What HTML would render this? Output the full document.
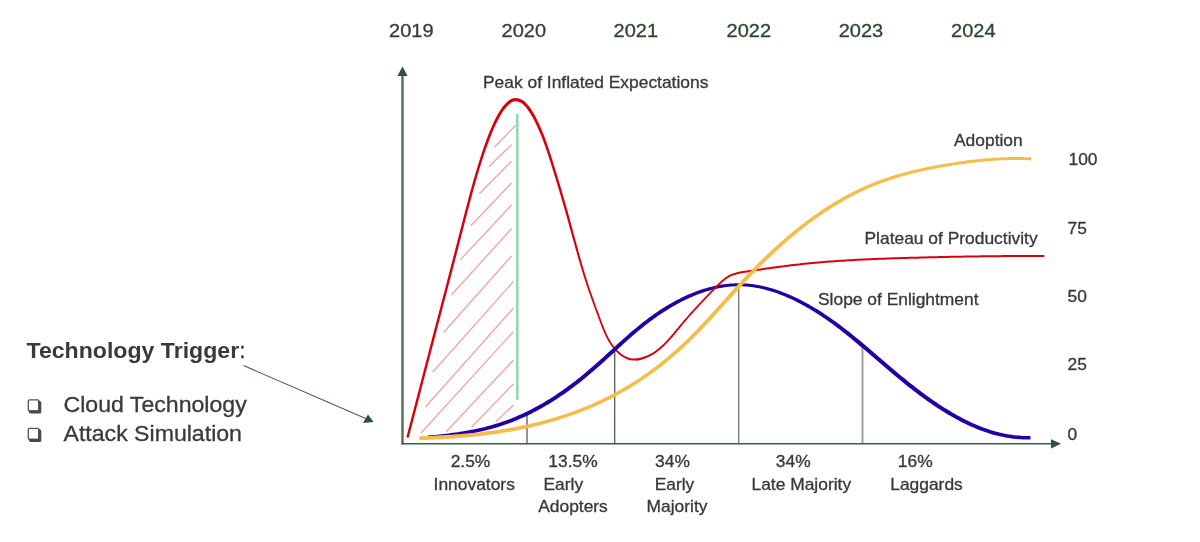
<!DOCTYPE html>
<html lang="en"><head><meta charset="utf-8"><title>Hype cycle and adoption</title>
<style>
html,body{margin:0;padding:0;background:#fff;}
svg{display:block;filter:blur(0.55px);font-family:"Liberation Sans",Arial,Helvetica,sans-serif;}
.lbl{font-size:16.35px;fill:#383838;stroke:#383838;stroke-width:0.3px;}
.yr{font-size:18.8px;stroke-width:0.3px;}
.big{font-size:21.7px;fill:#3a3a3a;stroke:#3a3a3a;stroke-width:0.3px;}
</style></head><body>
<svg width="1200" height="542" viewBox="0 0 1200 542">
<rect width="1200" height="542" fill="#fff"/>
<g class="yr">
<text transform="translate(389,37.2) scale(1.065,1)" text-anchor="start" fill="#3a3a3a" stroke="#3a3a3a">2019</text>
<text transform="translate(501.5,37.2) scale(1.065,1)" text-anchor="start" fill="#3a3a3a" stroke="#3a3a3a">2020</text>
<text transform="translate(613.5,37.2) scale(1.065,1)" text-anchor="start" fill="#2a472d" stroke="#2a472d">2021</text>
<text transform="translate(726.5,37.2) scale(1.065,1)" text-anchor="start" fill="#2a472d" stroke="#2a472d">2022</text>
<text transform="translate(838.7,37.2) scale(1.065,1)" text-anchor="start" fill="#2a472d" stroke="#2a472d">2023</text>
<text transform="translate(951,37.2) scale(1.065,1)" text-anchor="start" fill="#2a472d" stroke="#2a472d">2024</text>
</g>
<g stroke="#f2a3a3" stroke-width="1.3" stroke-linecap="round"><line x1="494.7" y1="146.7" x2="515.3" y2="125.7"/><line x1="489.3" y1="166.0" x2="511.3" y2="145"/><line x1="479.7" y1="193.3" x2="511.3" y2="161.5"/><line x1="471.3" y1="225.3" x2="511.3" y2="183.3"/><line x1="460.7" y1="259.4" x2="511.3" y2="205.3"/><line x1="452" y1="294.2" x2="511.3" y2="229"/><line x1="444" y1="332" x2="511.3" y2="256.3"/><line x1="433" y1="371.7" x2="513" y2="282"/><line x1="425.6" y1="406.7" x2="513" y2="308.7"/><line x1="421.3" y1="432.7" x2="513" y2="332"/><line x1="446.7" y1="431.3" x2="513" y2="360.5"/><line x1="472" y1="426.7" x2="513" y2="384.3"/><line x1="496.3" y1="421.3" x2="513.3" y2="405.2"/></g>
<line x1="517.3" y1="113.7" x2="517.3" y2="399.7" stroke="#8fd9aa" stroke-width="2.5"/>
<g>
<line x1="527" y1="414" x2="527" y2="443" stroke="#5a5a5a" stroke-width="1.3"/>
<line x1="614.7" y1="350" x2="614.7" y2="443" stroke="#5a5a5a" stroke-width="1.3"/>
<line x1="738.7" y1="285" x2="738.7" y2="443" stroke="#707070" stroke-width="1.3"/>
<line x1="862.5" y1="345" x2="862.5" y2="443" stroke="#a0a0a0" stroke-width="2"/>
</g>
<path d="M408.66,437.80L409.36,435.14L410.06,432.47L410.76,429.80L411.46,427.14L412.16,424.47L412.86,421.80L413.55,419.14L414.25,416.47L414.95,413.80L415.65,411.13L416.34,408.47L417.04,405.80L417.73,403.13L418.43,400.46L419.13,397.79L419.82,395.13L420.52,392.46L421.21,389.79L421.91,387.12L422.60,384.45L423.30,381.79L423.99,379.12L424.69,376.45L425.38,373.78L426.08,371.11L426.77,368.45L427.47,365.78L428.16,363.11L428.86,360.44L429.55,357.78L430.25,355.11L430.95,352.44L431.64,349.77L432.34,347.11L433.04,344.44L433.74,341.77L434.44,339.11L435.13,336.44L435.83,333.77L436.53,331.11L437.23,328.44L437.93,325.77L438.63,323.10L439.33,320.44L440.03,317.77L440.73,315.10L441.43,312.44L442.12,309.77L442.82,307.10L443.52,304.44L444.22,301.77L444.92,299.10L445.62,296.44L446.32,293.77L447.01,291.10L447.71,288.43L448.41,285.77L449.10,283.10L449.80,280.43L450.50,277.76L451.19,275.09L451.89,272.43L452.58,269.76L453.27,267.09L453.97,264.42L454.66,261.75L455.35,259.08L456.04,256.41L456.73,253.74L457.42,251.07L458.11,248.40L458.80,245.73L459.48,243.06L460.17,240.39L460.86,237.72L461.54,235.05L462.23,232.38L462.92,229.71L463.61,227.04L464.30,224.37L464.98,221.70L465.67,219.04L466.37,216.37L467.06,213.70L467.75,211.03L468.45,208.37L469.14,205.70L469.84,203.04L470.55,200.37L471.25,197.71L471.97,195.05L472.68,192.39L473.41,189.73L474.14,187.08L474.88,184.43L475.63,181.78L476.39,179.13L477.16,176.49L477.94,173.85L478.73,171.21L479.53,168.58L480.35,165.95L481.17,163.32L482.01,160.70L482.87,158.09L483.73,155.48L484.61,152.87L485.50,150.27L486.41,147.68L487.33,145.10L488.27,142.52L489.23,139.95L490.22,137.39L491.24,134.84L492.28,132.30L493.36,129.78L494.47,127.27L495.62,124.78L496.81,122.32L498.05,119.88L499.33,117.49L500.66,115.13L502.05,112.82L503.53,110.60L505.12,108.47L506.85,106.46L508.76,104.58L510.81,102.97L512.92,101.82L515.08,101.30L517.37,101.43L519.69,102.16L521.81,103.36L523.75,104.96L525.55,106.87L527.22,108.97L528.80,111.16L530.28,113.42L531.67,115.73L532.99,118.09L534.26,120.49L535.48,122.93L536.67,125.39L537.82,127.88L538.93,130.38L540.00,132.91L541.05,135.45L542.06,138.00L543.04,140.56L544.00,143.14L544.93,145.72L545.84,148.31L546.73,150.91L547.61,153.51L548.47,156.12L549.32,158.74L550.15,161.36L550.98,163.99L551.81,166.61L552.63,169.24L553.45,171.87L554.27,174.50L555.08,177.14L555.88,179.77L556.68,182.41L557.48,185.05L558.27,187.69L559.06,190.33L559.85,192.97L560.63,195.61L561.40,198.26L562.17,200.90L562.94,203.55L563.70,206.20L564.46,208.85L565.21,211.50L565.96,214.15L566.70,216.80L567.44,219.46L568.17,222.11L568.90,224.77L569.64,227.43L570.37,230.08L571.11,232.74L571.84,235.40L572.58,238.05L573.31,240.71L574.05,243.37L574.79,246.02L575.53,248.68L576.28,251.33L577.04,253.98L577.80,256.63L578.56,259.28L579.34,261.93L580.12,264.58L580.91,267.22L581.71,269.86L582.52,272.50L583.34,275.14L584.18,277.77L585.02,280.40L585.88,283.02L586.75,285.65L587.64,288.26L588.54,290.88L589.45,293.49L590.37,296.10L591.29,298.71L592.22,301.31L593.17,303.91L594.11,306.50L595.07,309.10L596.02,311.69L596.98,314.28L597.94,316.86L598.90,319.45L599.85,322.03L600.82,324.61L601.81,327.18L602.83,329.74L603.90,332.28L605.03,334.80L606.24,337.29L607.53,339.73L608.92,342.13L610.43,344.49L612.06,346.79L613.84,349.03L615.76,351.19L617.84,353.24L620.06,355.14L622.42,356.83L624.91,358.27L627.53,359.40L630.26,360.18L633.08,360.56L635.93,360.56L638.74,360.24L638.49,358.17L635.80,358.50L633.20,358.53L630.66,358.22L628.19,357.54L625.78,356.52L623.46,355.21L621.23,353.63L619.11,351.85L617.11,349.90L615.24,347.83L613.52,345.69L611.93,343.47L610.46,341.20L609.10,338.86L607.84,336.47L606.66,334.04L605.55,331.57L604.49,329.06L603.48,326.53L602.50,323.97L601.54,321.40L600.58,318.82L599.63,316.24L598.67,313.65L597.71,311.06L596.75,308.48L595.80,305.89L594.86,303.29L593.92,300.70L592.99,298.10L592.06,295.50L591.15,292.90L590.26,290.29L589.38,287.68L588.52,285.06L587.67,282.44L586.83,279.82L586.01,277.19L585.20,274.56L584.40,271.93L583.61,269.29L582.83,266.65L582.06,264.01L581.30,261.36L580.55,258.71L579.80,256.06L579.06,253.41L578.32,250.76L577.59,248.10L576.87,245.45L576.14,242.79L575.42,240.13L574.71,237.47L573.99,234.81L573.27,232.15L572.56,229.49L571.84,226.83L571.12,224.16L570.40,221.50L569.67,218.84L568.94,216.18L568.20,213.52L567.46,210.87L566.71,208.21L565.96,205.55L565.21,202.90L564.45,200.25L563.68,197.59L562.91,194.94L562.14,192.29L561.36,189.64L560.58,187.00L559.79,184.35L559.00,181.71L558.21,179.07L557.41,176.42L556.60,173.79L555.80,171.15L554.98,168.51L554.17,165.88L553.35,163.24L552.52,160.61L551.69,157.98L550.85,155.35L550.01,152.72L549.15,150.10L548.27,147.48L547.37,144.86L546.45,142.25L545.51,139.64L544.53,137.04L543.53,134.45L542.50,131.88L541.43,129.31L540.32,126.76L539.18,124.22L538.00,121.71L536.78,119.21L535.51,116.74L534.18,114.29L532.76,111.88L531.24,109.50L529.62,107.18L527.85,104.90L525.88,102.73L523.61,100.80L520.99,99.24L517.98,98.23L514.78,98.04L511.74,98.85L509.05,100.37L506.70,102.30L504.63,104.41L502.78,106.62L501.11,108.92L499.58,111.28L498.16,113.68L496.82,116.12L495.53,118.59L494.29,121.08L493.10,123.60L491.95,126.14L490.84,128.70L489.77,131.26L488.73,133.84L487.72,136.42L486.74,139.01L485.79,141.61L484.86,144.21L483.95,146.82L483.05,149.44L482.18,152.06L481.31,154.68L480.46,157.30L479.62,159.94L478.79,162.57L477.96,165.21L477.15,167.85L476.34,170.49L475.55,173.14L474.77,175.79L473.99,178.44L473.23,181.10L472.48,183.76L471.74,186.42L471.01,189.08L470.28,191.74L469.56,194.40L468.85,197.07L468.14,199.74L467.44,202.40L466.74,205.07L466.04,207.74L465.35,210.41L464.66,213.08L463.97,215.75L463.27,218.42L462.59,221.09L461.90,223.76L461.21,226.43L460.52,229.10L459.84,231.77L459.15,234.44L458.46,237.11L457.78,239.78L457.09,242.45L456.40,245.12L455.72,247.79L455.03,250.46L454.34,253.13L453.65,255.80L452.96,258.46L452.27,261.13L451.58,263.80L450.89,266.47L450.20,269.14L449.50,271.81L448.81,274.48L448.12,277.14L447.42,279.81L446.73,282.48L446.03,285.15L445.34,287.81L444.64,290.48L443.94,293.15L443.25,295.82L442.55,298.48L441.85,301.15L441.15,303.82L440.46,306.48L439.76,309.15L439.06,311.82L438.36,314.49L437.66,317.15L436.96,319.82L436.27,322.49L435.57,325.15L434.87,327.82L434.17,330.49L433.47,333.15L432.78,335.82L432.08,338.49L431.38,341.16L430.68,343.82L429.99,346.49L429.29,349.16L428.60,351.83L427.90,354.50L427.20,357.16L426.51,359.83L425.81,362.50L425.12,365.17L424.42,367.84L423.73,370.50L423.04,373.17L422.34,375.84L421.65,378.51L420.95,381.18L420.26,383.84L419.57,386.51L418.87,389.18L418.18,391.85L417.48,394.52L416.79,397.19L416.09,399.85L415.40,402.52L414.70,405.19L414.01,407.86L413.31,410.52L412.62,413.19L411.92,415.86L411.22,418.53L410.53,421.19L409.83,423.86L409.13,426.53L408.43,429.19L407.74,431.86L407.04,434.53L406.34,437.19Z" fill="#d9000d"/>
<path d="M428.11,439.11L430.43,438.91L432.76,438.70L435.08,438.49L437.40,438.26L439.72,438.02L442.04,437.78L444.36,437.52L446.67,437.25L448.99,436.97L451.30,436.67L453.61,436.37L455.91,436.05L458.22,435.71L460.52,435.36L462.82,435.00L465.11,434.61L467.40,434.22L469.69,433.80L471.97,433.37L474.25,432.92L476.52,432.46L478.79,431.97L481.05,431.47L483.31,430.95L485.57,430.41L487.82,429.84L490.06,429.26L492.30,428.66L494.53,428.03L496.75,427.38L498.97,426.70L501.18,426.01L503.39,425.28L505.59,424.53L507.78,423.76L509.96,422.96L512.13,422.14L514.29,421.29L516.45,420.41L518.60,419.52L520.74,418.59L522.87,417.65L524.99,416.68L527.10,415.69L529.20,414.68L531.30,413.65L533.38,412.59L535.45,411.52L537.52,410.42L539.58,409.31L541.62,408.17L543.66,407.01L545.68,405.84L547.70,404.64L549.71,403.43L551.70,402.20L553.69,400.96L555.66,399.70L557.63,398.42L559.58,397.12L561.53,395.81L563.46,394.49L565.39,393.15L567.30,391.80L569.20,390.43L571.10,389.05L572.98,387.66L574.85,386.25L576.71,384.83L578.56,383.41L580.39,381.96L582.22,380.51L584.04,379.05L585.84,377.58L587.63,376.10L589.41,374.61L591.18,373.11L592.94,371.60L594.69,370.09L596.43,368.57L598.16,367.04L599.88,365.51L601.60,363.98L603.30,362.43L605.01,360.89L606.70,359.34L608.39,357.79L610.08,356.24L611.77,354.69L613.46,353.14L615.14,351.59L616.83,350.04L618.51,348.49L620.20,346.95L621.89,345.41L623.58,343.87L625.28,342.34L626.98,340.82L628.69,339.30L630.40,337.79L632.12,336.28L633.85,334.78L635.59,333.29L637.34,331.81L639.09,330.34L640.86,328.88L642.64,327.43L644.43,326.00L646.23,324.57L648.05,323.16L649.89,321.76L651.74,320.38L653.60,319.01L655.48,317.65L657.38,316.32L659.30,314.99L661.23,313.69L663.18,312.41L665.14,311.14L667.12,309.90L669.11,308.68L671.12,307.48L673.14,306.30L675.17,305.15L677.22,304.02L679.28,302.92L681.35,301.84L683.43,300.79L685.51,299.77L687.61,298.78L689.72,297.81L691.84,296.88L693.97,295.98L696.11,295.12L698.26,294.29L700.41,293.49L702.57,292.73L704.74,292.01L706.91,291.32L709.09,290.68L711.28,290.07L713.47,289.50L715.67,288.98L717.87,288.50L720.07,288.06L722.28,287.66L724.49,287.31L726.71,287.01L728.92,286.75L731.14,286.54L733.36,286.38L735.58,286.27L737.81,286.21L740.03,286.20L742.25,286.27L744.47,286.39L746.69,286.56L748.91,286.78L751.13,287.04L753.35,287.36L755.56,287.72L757.77,288.12L759.98,288.57L762.19,289.06L764.39,289.59L766.58,290.16L768.78,290.78L770.96,291.43L773.14,292.12L775.32,292.85L777.49,293.61L779.65,294.41L781.80,295.24L783.95,296.10L786.09,296.99L788.22,297.92L790.34,298.87L792.45,299.85L794.55,300.86L796.64,301.90L798.72,302.96L800.79,304.04L802.84,305.15L804.89,306.28L806.92,307.43L808.94,308.60L810.94,309.78L812.93,310.99L814.91,312.21L816.87,313.45L818.82,314.70L820.75,315.97L822.67,317.25L824.58,318.55L826.47,319.85L828.35,321.17L830.22,322.51L832.08,323.85L833.92,325.21L835.76,326.57L837.59,327.95L839.40,329.34L841.21,330.74L843.01,332.14L844.81,333.56L846.59,334.99L848.37,336.42L850.14,337.86L851.91,339.31L853.67,340.76L855.43,342.23L857.18,343.69L858.93,345.17L860.68,346.64L862.43,348.12L864.18,349.60L865.92,351.09L867.66,352.58L869.41,354.07L871.15,355.57L872.89,357.07L874.63,358.57L876.38,360.07L878.12,361.57L879.87,363.08L881.62,364.58L883.38,366.09L885.13,367.59L886.89,369.09L888.66,370.59L890.43,372.09L892.21,373.59L893.99,375.09L895.78,376.58L897.57,378.07L899.37,379.55L901.17,381.03L902.98,382.50L904.80,383.97L906.62,385.43L908.45,386.88L910.29,388.33L912.13,389.76L913.98,391.19L915.84,392.62L917.70,394.03L919.57,395.43L921.45,396.82L923.34,398.19L925.24,399.56L927.14,400.91L929.05,402.26L930.97,403.58L932.90,404.90L934.84,406.20L936.78,407.49L938.74,408.76L940.70,410.02L942.67,411.26L944.65,412.49L946.64,413.69L948.64,414.88L950.65,416.06L952.67,417.21L954.70,418.35L956.74,419.46L958.78,420.56L960.84,421.64L962.91,422.69L964.99,423.72L967.08,424.73L969.19,425.71L971.30,426.67L973.42,427.60L975.56,428.51L977.71,429.38L979.87,430.23L982.04,431.04L984.22,431.82L986.42,432.58L988.62,433.29L990.84,433.98L993.07,434.63L995.32,435.24L997.58,435.81L999.84,436.35L1002.13,436.85L1004.42,437.31L1006.73,437.73L1009.05,438.10L1011.38,438.43L1013.73,438.72L1016.09,438.97L1018.46,439.17L1020.85,439.32L1023.25,439.42L1025.66,439.48L1028.09,439.49L1030.51,439.44L1030.46,435.94L1028.07,435.97L1025.72,435.95L1023.38,435.89L1021.05,435.77L1018.74,435.61L1016.43,435.40L1014.14,435.15L1011.87,434.86L1009.61,434.52L1007.35,434.14L1005.11,433.72L1002.89,433.26L1000.67,432.77L998.47,432.23L996.27,431.66L994.09,431.05L991.92,430.41L989.76,429.73L987.62,429.01L985.48,428.27L983.35,427.49L981.24,426.68L979.13,425.85L977.03,424.98L974.95,424.09L972.87,423.17L970.81,422.22L968.75,421.25L966.70,420.25L964.66,419.23L962.64,418.18L960.62,417.12L958.61,416.03L956.61,414.92L954.61,413.79L952.63,412.65L950.66,411.48L948.69,410.30L946.74,409.10L944.79,407.89L942.85,406.65L940.92,405.41L938.99,404.14L937.08,402.86L935.17,401.57L933.27,400.26L931.38,398.94L929.49,397.60L927.61,396.26L925.74,394.90L923.88,393.53L922.02,392.14L920.17,390.75L918.32,389.35L916.48,387.95L914.65,386.53L912.82,385.10L911.00,383.66L909.18,382.22L907.37,380.77L905.57,379.31L903.77,377.85L901.97,376.38L900.18,374.91L898.40,373.43L896.62,371.94L894.85,370.45L893.08,368.96L891.31,367.47L889.55,365.97L887.80,364.47L886.04,362.97L884.29,361.47L882.54,359.97L880.80,358.47L879.05,356.96L877.31,355.46L875.56,353.96L873.82,352.46L872.08,350.96L870.33,349.46L868.58,347.97L866.83,346.48L865.08,344.99L863.32,343.51L861.57,342.03L859.80,340.56L858.02,339.09L856.24,337.64L854.46,336.19L852.67,334.74L850.87,333.30L849.07,331.87L847.26,330.45L845.44,329.03L843.61,327.63L841.77,326.23L839.92,324.84L838.07,323.47L836.20,322.10L834.32,320.74L832.43,319.40L830.53,318.07L828.61,316.75L826.69,315.44L824.74,314.14L822.79,312.86L820.82,311.59L818.83,310.34L816.83,309.10L814.82,307.88L812.79,306.67L810.74,305.48L808.68,304.31L806.61,303.16L804.52,302.03L802.42,300.93L800.31,299.84L798.18,298.78L796.05,297.75L793.90,296.74L791.74,295.76L789.57,294.81L787.39,293.89L785.20,293.00L783.01,292.14L780.80,291.31L778.58,290.52L776.36,289.76L774.13,289.04L771.89,288.35L769.65,287.71L767.40,287.10L765.14,286.53L762.88,286.01L760.61,285.53L758.34,285.09L756.07,284.70L753.79,284.35L751.51,284.05L749.22,283.80L746.94,283.60L744.65,283.45L742.36,283.35L740.07,283.30L737.78,283.29L735.49,283.32L733.20,283.41L730.91,283.55L728.63,283.74L726.34,283.97L724.06,284.26L721.78,284.59L719.51,284.97L717.24,285.40L714.97,285.87L712.71,286.38L710.46,286.93L708.21,287.53L705.97,288.17L703.73,288.85L701.50,289.56L699.28,290.31L697.07,291.10L694.87,291.93L692.67,292.79L690.49,293.69L688.31,294.62L686.15,295.58L683.99,296.57L681.85,297.59L679.72,298.64L677.60,299.72L675.50,300.84L673.41,301.98L671.33,303.14L669.27,304.33L667.22,305.54L665.19,306.78L663.17,308.03L661.17,309.31L659.18,310.61L657.21,311.93L655.26,313.26L653.33,314.61L651.41,315.98L649.51,317.36L647.63,318.76L645.76,320.17L643.91,321.59L642.08,323.03L640.26,324.48L638.45,325.94L636.66,327.41L634.88,328.89L633.11,330.37L631.35,331.87L629.60,333.37L627.87,334.89L626.13,336.40L624.41,337.93L622.69,339.45L620.98,340.99L619.28,342.52L617.57,344.06L615.88,345.60L614.18,347.15L612.49,348.69L610.80,350.23L609.10,351.78L607.41,353.32L605.72,354.86L604.03,356.40L602.33,357.94L600.63,359.47L598.93,361.00L597.22,362.53L595.51,364.05L593.79,365.57L592.07,367.08L590.34,368.58L588.60,370.08L586.85,371.56L585.09,373.04L583.32,374.51L581.53,375.97L579.74,377.42L577.94,378.85L576.12,380.28L574.30,381.70L572.46,383.10L570.61,384.49L568.76,385.87L566.89,387.24L565.01,388.59L563.12,389.93L561.23,391.25L559.32,392.56L557.40,393.86L555.47,395.14L553.53,396.40L551.59,397.65L549.63,398.88L547.67,400.09L545.69,401.29L543.71,402.47L541.71,403.63L539.71,404.77L537.70,405.90L535.68,407.00L533.65,408.09L531.61,409.16L529.57,410.20L527.51,411.23L525.45,412.23L523.38,413.22L521.30,414.18L519.21,415.12L517.11,416.03L515.00,416.92L512.89,417.79L510.77,418.63L508.64,419.45L506.50,420.25L504.36,421.02L502.20,421.76L500.04,422.48L497.87,423.18L495.69,423.85L493.51,424.50L491.32,425.13L489.12,425.74L486.91,426.32L484.70,426.89L482.48,427.43L480.25,427.95L478.02,428.45L475.78,428.93L473.54,429.39L471.29,429.84L469.03,430.26L466.77,430.67L464.51,431.07L462.24,431.44L459.97,431.80L457.69,432.15L455.41,432.48L453.12,432.80L450.83,433.10L448.54,433.40L446.25,433.67L443.95,433.94L441.65,434.20L439.35,434.44L437.04,434.68L434.74,434.90L432.43,435.12L430.12,435.32L427.81,435.52Z" fill="#2200a6"/>
<path d="M635.99,360.55L638.79,360.24L641.60,359.63L644.36,358.78L647.01,357.76L649.56,356.58L652.02,355.27L654.38,353.82L656.66,352.26L658.86,350.59L660.99,348.82L663.05,346.97L665.06,345.04L667.02,343.05L668.92,341.00L670.79,338.91L672.63,336.78L674.45,334.63L676.24,332.47L678.02,330.30L679.79,328.14L681.56,326.00L683.34,323.87L685.12,321.77L686.91,319.68L688.71,317.60L690.51,315.54L692.32,313.49L694.13,311.46L695.96,309.43L697.79,307.41L699.64,305.41L701.50,303.41L703.37,301.43L705.26,299.45L707.15,297.48L709.06,295.51L710.98,293.54L712.92,291.58L714.87,289.61L716.83,287.64L718.80,285.68L720.79,283.74L722.81,281.89L724.88,280.15L727.02,278.57L729.24,277.20L731.56,276.06L733.99,275.14L736.53,274.39L739.15,273.77L741.84,273.26L744.57,272.82L747.33,272.41L750.09,272.00L752.84,271.59L755.60,271.18L758.34,270.78L761.09,270.38L763.83,269.99L766.57,269.60L769.30,269.21L772.04,268.83L774.77,268.46L777.50,268.09L780.23,267.73L782.96,267.37L785.68,267.02L788.41,266.68L791.14,266.35L793.87,266.02L796.59,265.71L799.32,265.40L802.05,265.10L804.79,264.81L807.52,264.53L810.25,264.26L812.99,264.00L815.73,263.75L818.47,263.51L821.21,263.27L823.95,263.05L826.69,262.83L829.43,262.61L832.18,262.41L834.92,262.21L837.67,262.02L840.42,261.84L843.17,261.66L845.92,261.49L848.67,261.33L851.42,261.17L854.17,261.02L856.92,260.87L859.67,260.73L862.43,260.59L865.18,260.46L867.93,260.33L870.69,260.21L873.44,260.09L876.20,259.98L878.96,259.87L881.71,259.76L884.47,259.66L887.22,259.56L889.98,259.47L892.74,259.37L895.49,259.28L898.25,259.19L901.01,259.11L903.77,259.02L906.52,258.94L909.28,258.86L912.03,258.78L914.79,258.70L917.55,258.63L920.30,258.55L923.06,258.48L925.81,258.41L928.57,258.34L931.32,258.28L934.08,258.21L936.83,258.15L939.59,258.08L942.34,258.02L945.09,257.96L947.85,257.91L950.60,257.85L953.36,257.80L956.11,257.74L958.86,257.69L961.62,257.64L964.37,257.60L967.13,257.55L969.88,257.51L972.64,257.46L975.39,257.42L978.14,257.38L980.90,257.35L983.65,257.31L986.41,257.28L989.16,257.25L991.92,257.22L994.67,257.19L997.43,257.16L1000.18,257.14L1002.94,257.11L1005.69,257.09L1008.45,257.07L1011.21,257.05L1013.96,257.04L1016.72,257.02L1019.48,257.01L1022.24,257.00L1024.99,256.99L1027.75,256.98L1030.51,256.98L1033.27,256.98L1036.03,256.97L1038.79,256.97L1041.55,256.98L1044.31,256.98L1044.31,254.98L1041.55,254.98L1038.79,254.97L1036.03,254.97L1033.27,254.98L1030.51,254.98L1027.75,254.98L1024.99,254.99L1022.23,255.00L1019.47,255.01L1016.71,255.02L1013.95,255.04L1011.20,255.05L1008.44,255.07L1005.68,255.09L1002.92,255.11L1000.17,255.14L997.41,255.16L994.65,255.19L991.90,255.22L989.14,255.25L986.38,255.28L983.63,255.31L980.87,255.35L978.12,255.38L975.36,255.42L972.61,255.46L969.85,255.51L967.09,255.55L964.34,255.60L961.58,255.64L958.83,255.69L956.07,255.74L953.32,255.80L950.56,255.85L947.81,255.91L945.05,255.96L942.30,256.02L939.54,256.08L936.78,256.15L934.03,256.21L931.27,256.28L928.52,256.34L925.76,256.41L923.00,256.48L920.25,256.56L917.49,256.63L914.73,256.71L911.98,256.78L909.22,256.86L906.46,256.94L903.70,257.02L900.95,257.11L898.19,257.19L895.43,257.28L892.67,257.37L889.91,257.47L887.15,257.56L884.39,257.66L881.64,257.77L878.88,257.87L876.12,257.98L873.36,258.10L870.60,258.21L867.84,258.34L865.09,258.46L862.33,258.59L859.57,258.73L856.82,258.87L854.06,259.02L851.30,259.17L848.55,259.33L845.79,259.50L843.04,259.67L840.29,259.84L837.53,260.03L834.78,260.22L832.03,260.42L829.28,260.62L826.53,260.83L823.79,261.05L821.04,261.28L818.29,261.52L815.55,261.76L812.80,262.01L810.06,262.27L807.32,262.54L804.58,262.82L801.84,263.11L799.10,263.41L796.37,263.72L793.63,264.04L790.90,264.36L788.17,264.69L785.43,265.04L782.70,265.39L779.97,265.74L777.23,266.11L774.50,266.48L771.76,266.85L769.03,267.23L766.29,267.62L763.54,268.01L760.80,268.40L758.05,268.80L755.31,269.20L752.55,269.61L749.80,270.02L747.03,270.43L744.27,270.84L741.49,271.29L738.74,271.82L736.02,272.46L733.35,273.26L730.77,274.26L728.29,275.50L725.93,276.98L723.70,278.65L721.56,280.47L719.50,282.39L717.50,284.36L715.52,286.35L713.57,288.33L711.63,290.31L709.70,292.29L707.79,294.28L705.89,296.26L704.00,298.25L702.12,300.25L700.25,302.25L698.39,304.25L696.53,306.25L694.68,308.27L692.84,310.29L691.01,312.32L689.18,314.37L687.36,316.43L685.55,318.51L683.75,320.60L681.95,322.70L680.16,324.83L678.37,326.97L676.59,329.12L674.80,331.28L673.01,333.43L671.20,335.55L669.37,337.65L667.52,339.71L665.63,341.71L663.70,343.66L661.73,345.54L659.71,347.33L657.63,349.04L655.50,350.64L653.29,352.14L651.02,353.51L648.66,354.76L646.22,355.86L643.68,356.82L641.08,357.60L638.44,358.18L635.75,358.51Z" fill="#d9000d"/>
<path d="M419.37,440.25L421.71,440.16L424.05,440.07L426.39,439.98L428.73,439.87L431.07,439.77L433.41,439.66L435.76,439.54L438.10,439.42L440.44,439.29L442.78,439.16L445.12,439.02L447.46,438.87L449.80,438.71L452.14,438.55L454.48,438.39L456.82,438.21L459.16,438.03L461.50,437.84L463.83,437.64L466.17,437.43L468.51,437.22L470.84,436.99L473.17,436.76L475.51,436.52L477.84,436.27L480.17,436.01L482.50,435.74L484.83,435.46L487.15,435.17L489.48,434.87L491.80,434.56L494.13,434.24L496.45,433.90L498.77,433.56L501.09,433.20L503.40,432.84L505.72,432.45L508.03,432.06L510.34,431.66L512.65,431.24L514.95,430.81L517.26,430.37L519.56,429.91L521.86,429.44L524.16,428.96L526.45,428.46L528.75,427.95L531.04,427.43L533.33,426.89L535.61,426.34L537.89,425.77L540.17,425.19L542.45,424.60L544.72,423.99L546.99,423.36L549.25,422.73L551.51,422.07L553.77,421.41L556.02,420.73L558.27,420.03L560.51,419.32L562.75,418.60L564.99,417.87L567.22,417.12L569.44,416.35L571.66,415.57L573.88,414.78L576.08,413.97L578.29,413.14L580.48,412.30L582.68,411.45L584.86,410.57L587.04,409.69L589.21,408.79L591.38,407.87L593.54,406.94L595.69,405.99L597.83,405.02L599.97,404.04L602.10,403.05L604.23,402.03L606.34,401.01L608.45,399.96L610.55,398.90L612.64,397.83L614.72,396.73L616.80,395.62L618.86,394.50L620.92,393.36L622.97,392.20L625.01,391.03L627.04,389.84L629.06,388.64L631.07,387.42L633.07,386.19L635.07,384.94L637.05,383.68L639.02,382.40L640.99,381.11L642.95,379.80L644.89,378.48L646.83,377.15L648.75,375.80L650.67,374.43L652.58,373.06L654.48,371.67L656.37,370.27L658.24,368.86L660.11,367.43L661.97,365.99L663.82,364.54L665.65,363.08L667.48,361.60L669.30,360.11L671.10,358.60L672.89,357.09L674.68,355.56L676.45,354.02L678.21,352.46L679.96,350.90L681.69,349.32L683.42,347.74L685.13,346.14L686.84,344.53L688.53,342.91L690.21,341.28L691.89,339.64L693.55,337.99L695.21,336.34L696.85,334.68L698.49,333.01L700.13,331.33L701.75,329.64L703.37,327.95L704.98,326.26L706.59,324.55L708.19,322.85L709.78,321.13L711.37,319.42L712.96,317.70L714.54,315.97L716.12,314.25L717.70,312.52L719.27,310.79L720.85,309.05L722.42,307.32L723.98,305.58L725.55,303.84L727.11,302.10L728.68,300.36L730.24,298.63L731.81,296.89L733.38,295.15L734.95,293.42L736.52,291.69L738.09,289.96L739.67,288.23L741.25,286.51L742.84,284.80L744.43,283.08L746.02,281.37L747.62,279.67L749.22,277.97L750.83,276.28L752.45,274.59L754.07,272.91L755.70,271.24L757.34,269.57L758.98,267.91L760.62,266.25L762.28,264.60L763.93,262.95L765.59,261.32L767.26,259.68L768.94,258.06L770.62,256.45L772.31,254.84L774.01,253.24L775.71,251.64L777.43,250.06L779.14,248.49L780.87,246.92L782.60,245.36L784.35,243.82L786.09,242.28L787.85,240.75L789.61,239.23L791.39,237.72L793.17,236.22L794.95,234.73L796.75,233.25L798.55,231.78L800.36,230.33L802.19,228.88L804.02,227.45L805.85,226.03L807.70,224.62L809.56,223.22L811.42,221.83L813.30,220.46L815.18,219.10L817.07,217.75L818.97,216.41L820.88,215.09L822.79,213.78L824.72,212.48L826.65,211.20L828.60,209.93L830.55,208.68L832.51,207.44L834.48,206.21L836.46,205.00L838.45,203.81L840.44,202.63L842.45,201.47L844.46,200.33L846.48,199.20L848.51,198.09L850.55,196.99L852.60,195.91L854.66,194.85L856.73,193.81L858.80,192.79L860.89,191.78L862.98,190.79L865.08,189.82L867.20,188.87L869.32,187.94L871.44,187.03L873.58,186.14L875.73,185.27L877.89,184.42L880.05,183.59L882.23,182.78L884.41,181.99L886.60,181.22L888.80,180.47L891.01,179.73L893.22,179.02L895.45,178.32L897.68,177.64L899.91,176.98L902.15,176.33L904.40,175.70L906.66,175.09L908.92,174.49L911.18,173.90L913.45,173.33L915.72,172.78L918.00,172.24L920.28,171.71L922.57,171.20L924.86,170.70L927.15,170.21L929.44,169.74L931.74,169.28L934.04,168.83L936.34,168.39L938.64,167.96L940.95,167.54L943.25,167.13L945.56,166.73L947.86,166.35L950.17,165.97L952.47,165.60L954.78,165.24L957.08,164.89L959.38,164.55L961.68,164.21L963.98,163.89L966.28,163.58L968.58,163.27L970.88,162.98L973.18,162.70L975.48,162.43L977.78,162.17L980.08,161.93L982.39,161.69L984.69,161.47L986.99,161.27L989.30,161.07L991.61,160.90L993.92,160.73L996.23,160.58L998.55,160.45L1000.86,160.33L1003.18,160.23L1005.51,160.14L1007.83,160.07L1010.16,160.02L1012.49,159.98L1014.83,159.97L1017.17,159.97L1019.52,159.99L1021.87,160.03L1024.22,160.09L1026.58,160.17L1028.94,160.26L1031.32,160.38L1031.47,157.49L1029.08,157.36L1026.69,157.26L1024.31,157.18L1021.93,157.12L1019.56,157.08L1017.19,157.05L1014.82,157.05L1012.46,157.06L1010.11,157.09L1007.76,157.14L1005.41,157.21L1003.07,157.30L1000.73,157.40L998.39,157.51L996.05,157.64L993.72,157.79L991.39,157.96L989.07,158.13L986.74,158.32L984.42,158.53L982.10,158.75L979.78,158.98L977.46,159.22L975.15,159.48L972.83,159.75L970.52,160.03L968.20,160.32L965.89,160.62L963.58,160.94L961.26,161.26L958.95,161.59L956.64,161.93L954.32,162.28L952.01,162.64L949.69,163.00L947.37,163.38L945.05,163.76L942.74,164.15L940.42,164.55L938.10,164.96L935.78,165.39L933.46,165.82L931.15,166.27L928.83,166.72L926.52,167.19L924.21,167.67L921.90,168.17L919.60,168.68L917.30,169.20L915.00,169.74L912.70,170.29L910.41,170.85L908.12,171.43L905.84,172.03L903.56,172.64L901.29,173.27L899.02,173.91L896.76,174.58L894.50,175.26L892.25,175.95L890.01,176.67L887.77,177.40L885.55,178.16L883.32,178.93L881.11,179.72L878.90,180.54L876.71,181.37L874.52,182.22L872.34,183.10L870.17,183.99L868.01,184.91L865.86,185.84L863.71,186.79L861.58,187.77L859.45,188.76L857.34,189.77L855.23,190.80L853.14,191.85L851.05,192.91L848.97,194.00L846.90,195.10L844.84,196.22L842.79,197.35L840.75,198.50L838.72,199.67L836.69,200.85L834.68,202.05L832.67,203.27L830.68,204.50L828.69,205.74L826.71,207.00L824.74,208.28L822.78,209.57L820.83,210.87L818.89,212.19L816.96,213.52L815.03,214.86L813.12,216.22L811.21,217.59L809.32,218.97L807.43,220.36L805.55,221.77L803.68,223.18L801.82,224.61L799.97,226.05L798.12,227.50L796.28,228.96L794.46,230.43L792.63,231.92L790.82,233.41L789.02,234.91L787.22,236.42L785.44,237.94L783.66,239.48L781.88,241.02L780.12,242.57L778.36,244.13L776.62,245.70L774.87,247.27L773.14,248.86L771.41,250.46L769.70,252.06L767.98,253.67L766.28,255.29L764.58,256.91L762.89,258.55L761.21,260.19L759.53,261.84L757.87,263.49L756.21,265.16L754.56,266.83L752.91,268.51L751.27,270.20L749.64,271.89L748.01,273.59L746.39,275.29L744.78,277.00L743.17,278.71L741.57,280.43L739.98,282.15L738.38,283.87L736.80,285.60L735.21,287.33L733.64,289.06L732.06,290.80L730.49,292.54L728.92,294.27L727.35,296.01L725.78,297.75L724.21,299.49L722.65,301.23L721.08,302.97L719.52,304.71L717.95,306.44L716.39,308.18L714.83,309.91L713.26,311.64L711.69,313.37L710.12,315.09L708.55,316.81L706.97,318.53L705.39,320.24L703.80,321.94L702.21,323.64L700.61,325.34L699.01,327.02L697.41,328.70L695.79,330.38L694.17,332.04L692.54,333.70L690.91,335.35L689.26,336.99L687.61,338.62L685.95,340.24L684.28,341.85L682.60,343.45L680.91,345.04L679.21,346.62L677.50,348.18L675.77,349.74L674.04,351.28L672.29,352.81L670.54,354.33L668.77,355.84L666.99,357.33L665.20,358.82L663.40,360.29L661.59,361.75L659.77,363.19L657.94,364.62L656.10,366.04L654.25,367.45L652.39,368.84L650.51,370.22L648.63,371.59L646.73,372.94L644.83,374.27L642.91,375.59L640.99,376.90L639.06,378.19L637.11,379.47L635.16,380.73L633.20,381.98L631.23,383.22L629.25,384.44L627.26,385.64L625.26,386.83L623.25,388.00L621.23,389.16L619.21,390.30L617.18,391.43L615.13,392.54L613.08,393.64L611.02,394.72L608.96,395.78L606.88,396.83L604.80,397.86L602.71,398.88L600.61,399.88L598.50,400.87L596.39,401.84L594.27,402.79L592.14,403.73L590.00,404.65L587.86,405.56L585.71,406.45L583.55,407.33L581.39,408.19L579.22,409.04L577.05,409.87L574.87,410.68L572.68,411.49L570.49,412.27L568.29,413.04L566.09,413.80L563.88,414.54L561.67,415.27L559.45,415.98L557.23,416.68L555.00,417.36L552.76,418.02L550.53,418.67L548.28,419.30L546.04,419.92L543.79,420.53L541.54,421.12L539.28,421.70L537.02,422.26L534.76,422.81L532.49,423.35L530.22,423.87L527.95,424.38L525.68,424.87L523.40,425.36L521.12,425.82L518.84,426.28L516.56,426.72L514.27,427.14L511.98,427.56L509.69,427.96L507.40,428.35L505.10,428.73L502.81,429.10L500.51,429.45L498.21,429.80L495.90,430.13L493.60,430.46L491.29,430.77L488.99,431.07L486.68,431.37L484.37,431.65L482.05,431.92L479.74,432.18L477.42,432.44L475.11,432.68L472.79,432.91L470.47,433.14L468.15,433.36L465.83,433.56L463.50,433.76L461.18,433.96L458.85,434.14L456.53,434.32L454.20,434.48L451.87,434.64L449.54,434.80L447.21,434.95L444.88,435.09L442.55,435.22L440.22,435.35L437.89,435.47L435.56,435.59L433.23,435.70L430.89,435.80L428.56,435.90L426.23,436.00L423.89,436.09L421.56,436.17L419.23,436.25Z" fill="#f6bd4b"/>
<line x1="402.5" y1="74" x2="402.5" y2="444.4" stroke="#506b5a" stroke-width="2.4"/>
<line x1="401.4" y1="443.7" x2="1053" y2="443.7" stroke="#3c5c47" stroke-width="1.5"/>
<path d="M402.5,66.5 L407.6,76 L397.4,76 Z" fill="#2d5236"/>
<path d="M1061,443.7 L1051,448.4 L1051,439.2 Z" fill="#2d5236"/>
<g class="lbl">
<text transform="translate(483,88) scale(1.065,1)" text-anchor="start" >Peak of Inflated Expectations</text>
<text transform="translate(954,145.5) scale(1.065,1)" text-anchor="start" >Adoption</text>
<text transform="translate(864.5,243.7) scale(1.065,1)" text-anchor="start" >Plateau of Productivity</text>
<text transform="translate(818,305) scale(1.065,1)" text-anchor="start" >Slope of Enlightment</text>
<text transform="translate(1068.5,164.5) scale(1.065,1)" text-anchor="start" >100</text>
<text transform="translate(1067.5,234) scale(1.065,1)" text-anchor="start" >75</text>
<text transform="translate(1067.5,302.3) scale(1.065,1)" text-anchor="start" >50</text>
<text transform="translate(1067.5,370.3) scale(1.065,1)" text-anchor="start" >25</text>
<text transform="translate(1067.5,440) scale(1.065,1)" text-anchor="start" >0</text>
<text transform="translate(470.5,467) scale(1.065,1)" text-anchor="middle" >2.5%</text>
<text transform="translate(474.2,489.5) scale(1.065,1)" text-anchor="middle" >Innovators</text>
<text transform="translate(573,467) scale(1.065,1)" text-anchor="middle" >13.5%</text>
<text transform="translate(563.3,489.5) scale(1.065,1)" text-anchor="middle" >Early</text>
<text transform="translate(573,511.7) scale(1.065,1)" text-anchor="middle" >Adopters</text>
<text transform="translate(672.5,467) scale(1.065,1)" text-anchor="middle" >34%</text>
<text transform="translate(674.5,489.5) scale(1.065,1)" text-anchor="middle" >Early</text>
<text transform="translate(677,511.7) scale(1.065,1)" text-anchor="middle" >Majority</text>
<text transform="translate(793.2,467) scale(1.065,1)" text-anchor="middle" >34%</text>
<text transform="translate(801.3,489.5) scale(1.065,1)" text-anchor="middle" >Late Majority</text>
<text transform="translate(915.2,467) scale(1.065,1)" text-anchor="middle" >16%</text>
<text transform="translate(926.5,489.5) scale(1.065,1)" text-anchor="middle" >Laggards</text>
</g>
<g class="big">
<text transform="translate(26.5,358) scale(1.065,1)"><tspan font-weight="bold" stroke="none">Technology Trigger</tspan>:</text>
<text transform="translate(63.5,412.4) scale(1.065,1)" text-anchor="start" >Cloud Technology</text>
<text transform="translate(63.5,441) scale(1.065,1)" text-anchor="start" >Attack Simulation</text>
</g>
<g id="bullets">
<g>
<rect x="28.3" y="399.9" width="10.6" height="11" rx="1.2" fill="none" stroke="#555" stroke-width="1.3"/>
<path d="M38.2,400.6 L40.2,400.9 Q41.3,401.6 41.3,403 V412 Q41.3,413.5 39.8,413.5 H30.6 Q29.2,413.5 28.7,411.6 L28.7,410.4 H38.2 Z" fill="#4a4a4a"/>
</g>
<g transform="translate(0,28.4)">
<rect x="28.3" y="399.9" width="10.6" height="11" rx="1.2" fill="none" stroke="#555" stroke-width="1.3"/>
<path d="M38.2,400.6 L40.2,400.9 Q41.3,401.6 41.3,403 V412 Q41.3,413.5 39.8,413.5 H30.6 Q29.2,413.5 28.7,411.6 L28.7,410.4 H38.2 Z" fill="#4a4a4a"/>
</g>
</g>
<line x1="243.6" y1="365.6" x2="368" y2="419.6" stroke="#3f6147" stroke-width="1.1"/>
<path d="M373.6,422 L363,423 L368,414.6 Z" fill="#2d5236"/>
</svg>
</body></html>
